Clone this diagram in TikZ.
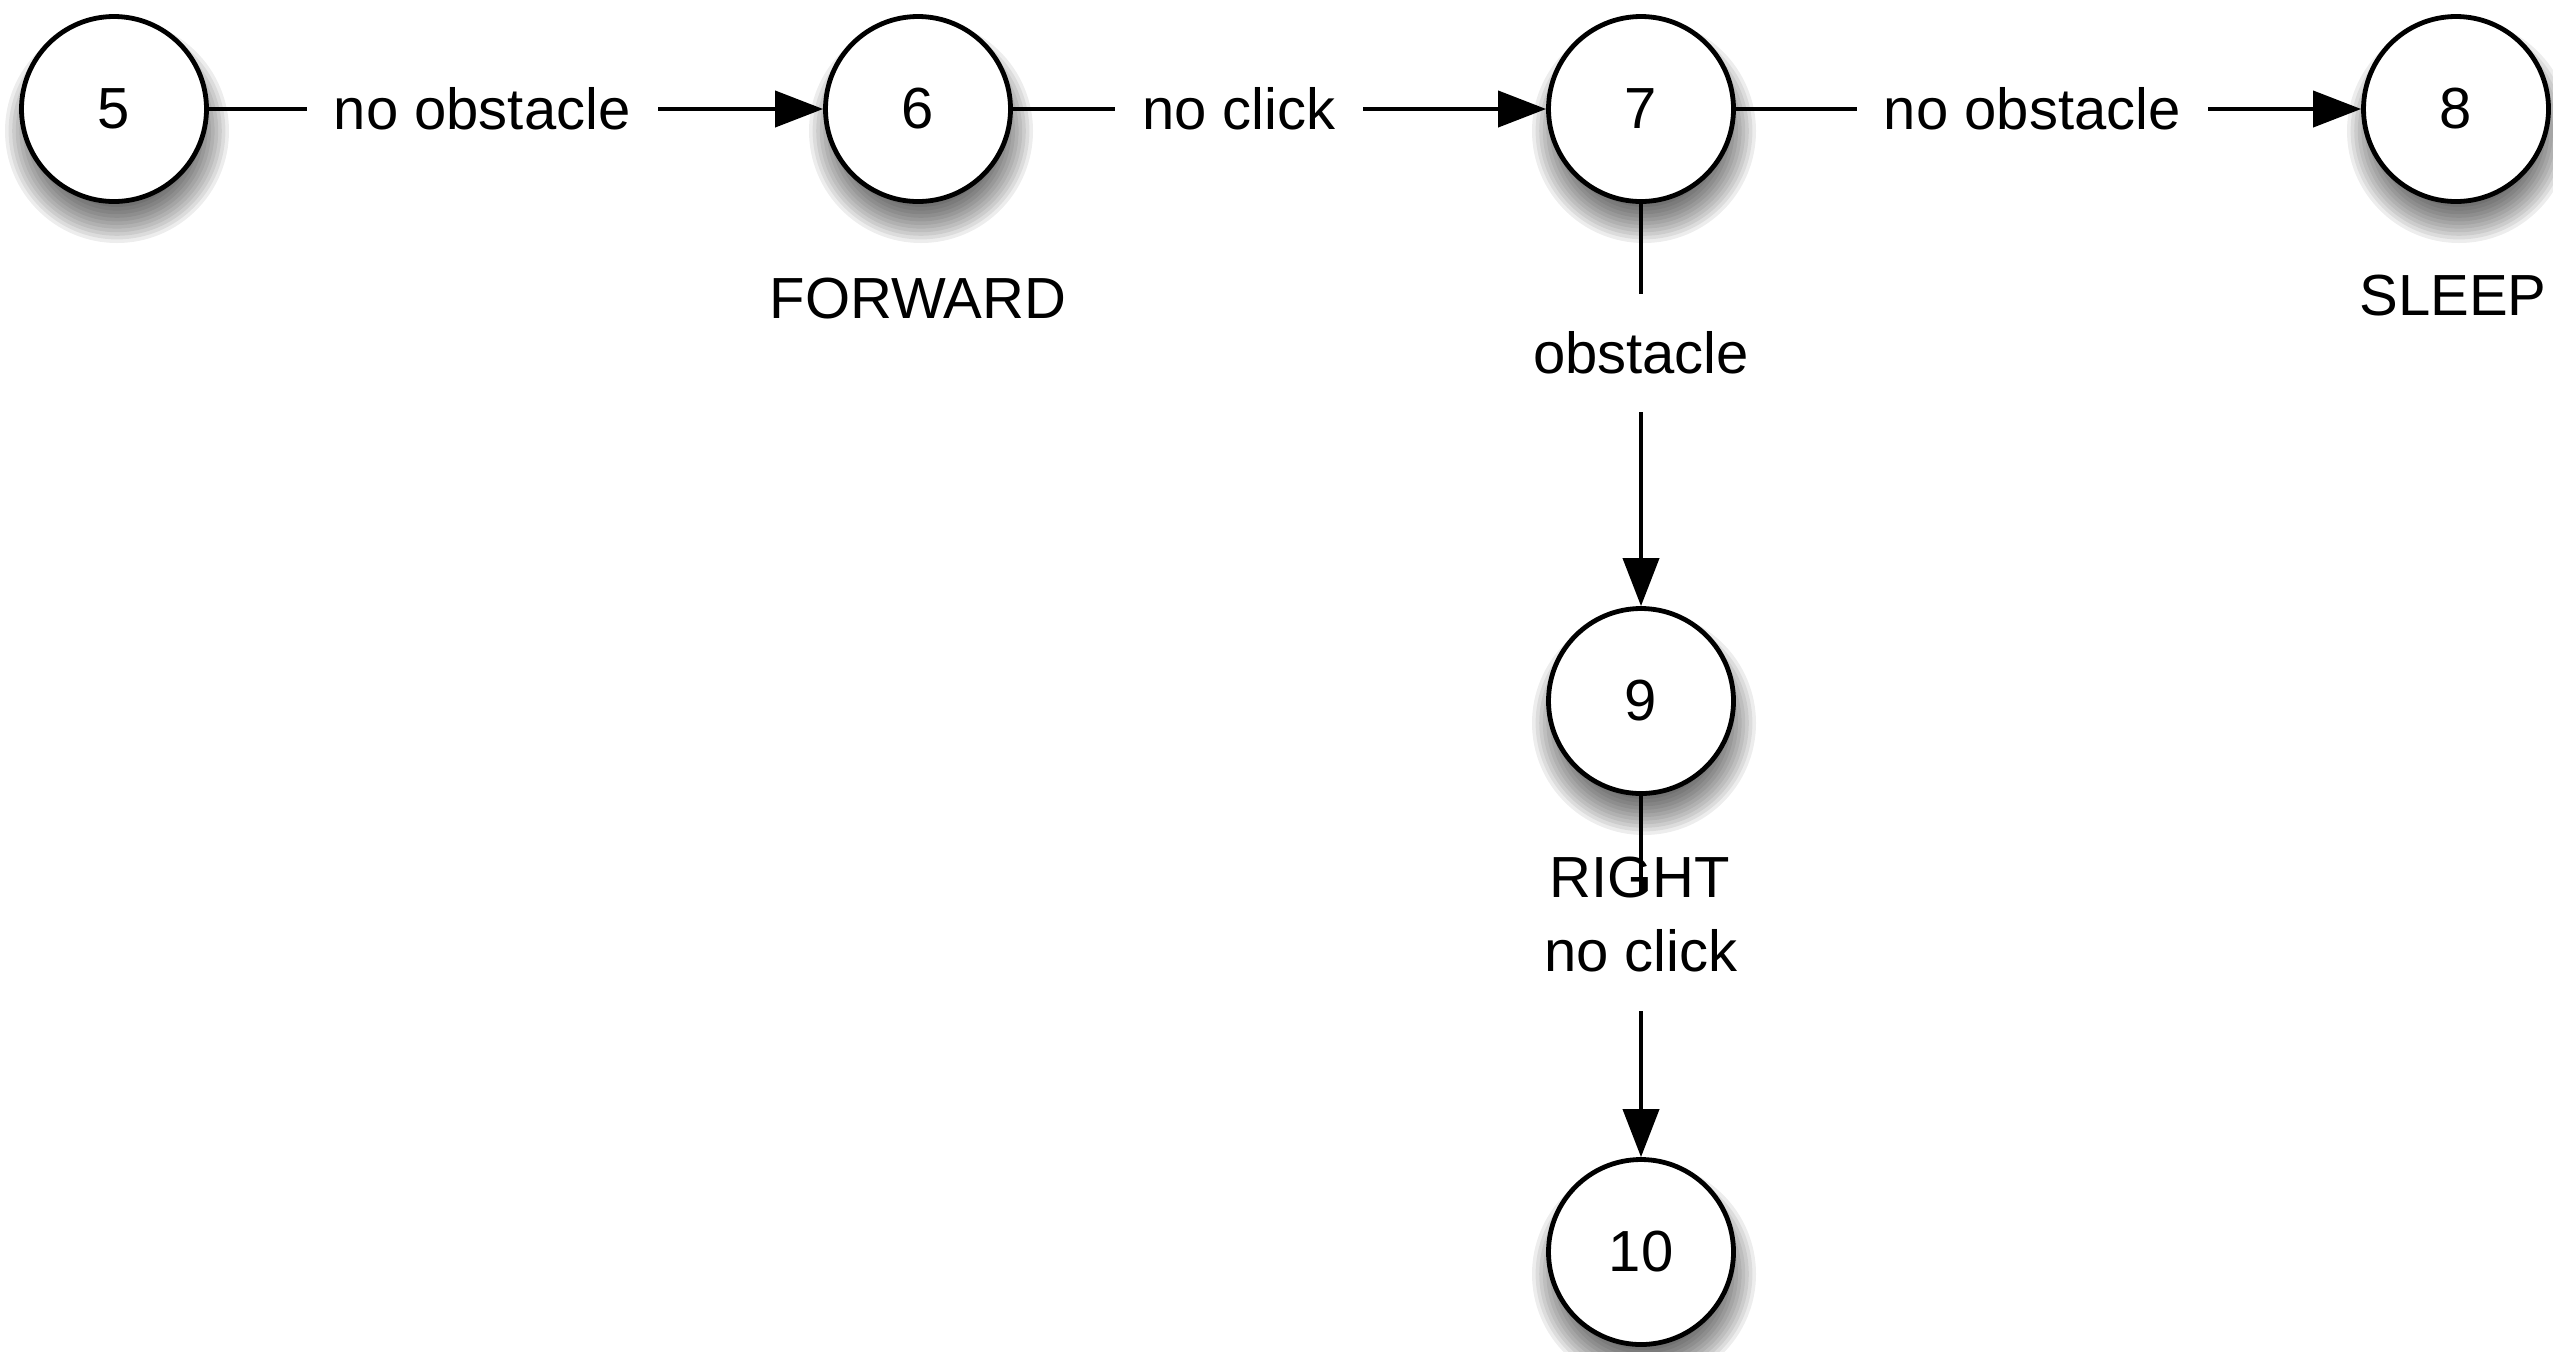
\documentclass[tikz,border=0pt]{standalone}
\usepackage{fontspec}
\setmainfont{Liberation Sans}
\usetikzlibrary{arrows.meta,backgrounds,calc}

\begin{document}
\begin{tikzpicture}[x=0.5pt,y=-0.5pt,
  font=\fontsize{29pt}{35pt}\selectfont,
  state/.style={circle, draw=black, line width=2.4pt, fill=white,
                minimum size=92.5pt, inner sep=0pt},
  trans/.style={line width=2pt, -{Triangle[length=24pt,width=18pt]}},
  cond/.style={fill=white, inner sep=13.5pt, text height=26.2pt, text depth=6.1pt},
  tag/.style={anchor=base, inner sep=0pt},
]
\useasboundingbox (0,0) rectangle (2553,1351);

% states
\node[state] (n5)  at (114,109)  {5};
\node[state] (n6)  at (918,109)  {6};
\node[state] (n7)  at (1641,109) {7};
\node[state] (n8)  at (2456,109) {8};
\node[state] (n9)  at (1641,701) {9};
\node[state] (n10) at (1641,1252) {10};

% soft drop shadows under the states
\begin{scope}[on background layer]
  \foreach \n in {n5,n6,n7,n8,n9,n10}{
    \foreach \k in {0,...,12}{
      \fill[black,opacity=0.07] ($(\n.center)+(3,22)$) circle[radius={56pt-1.8pt*\k}];
    }
  }
\end{scope}

% transitions
\draw[trans] (n5) -- node[cond, pos=0.445] {no obstacle} (n6);
\draw[trans] (n6) -- node[cond, pos=0.424] {no click} (n7);
\draw[trans] (n7) -- node[cond, pos=0.474] {no obstacle} (n8);
\draw[trans] (n7) -- node[cond, pos=0.371] {obstacle} (n9);
\draw[trans] (n9) -- node[cond, pos=0.43] {no click} (n10);

% state actions
\node[tag] (t6) at (918,318)  {FORWARD};
\node[tag] (t8) at (2453,315) {SLEEP};
\node[tag] (t9) at (1640,897) {RIGHT};
\end{tikzpicture}
\end{document}
